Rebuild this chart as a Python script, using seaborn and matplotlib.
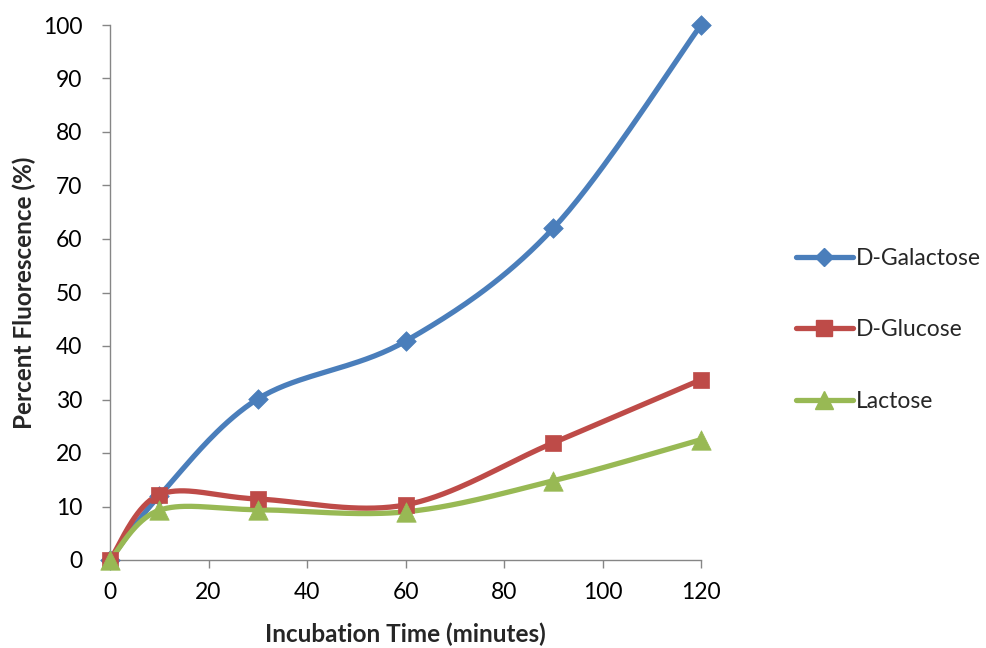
import numpy as np
import pandas as pd
import matplotlib
matplotlib.use("Agg")
import matplotlib.pyplot as plt
import seaborn as sns
from matplotlib.lines import Line2D

time_min = [0, 10, 30, 60, 90, 120]
galactose = [0, 12, 30.1, 40.9, 62.0, 100]
glucose = [0, 12.2, 11.4, 10.3, 21.9, 33.7]
lactose = [0, 9.3, 9.4, 9.0, 14.8, 22.5]
series_names = ["D-Galactose", "D-Glucose", "Lactose"]
colors = ["#4A7EBB", "#BE4B48", "#98B954"]
markers = ["D", "s", "^"]
msizes = [10, 12, 14]

sns.set_theme(style="white")
plt.rcParams['font.family'] = ['Lato', 'DejaVu Sans']

fig = plt.figure(figsize=(9.86, 6.48), dpi=100)
ax = fig.add_axes([110/986, 1-560/648, 591/986, 535/648])

sx, sy = 591/120, 535/100  # display scaling for smoothing


def smooth(x, y, n=40):
    x = np.asarray(x, float) * sx
    y = np.asarray(y, float) * sy
    P = np.column_stack([x, y])
    out = []
    for i in range(len(P) - 1):
        p0 = P[i - 1] if i > 0 else P[i]
        p1 = P[i]
        p2 = P[i + 1]
        p3 = P[i + 2] if i + 2 < len(P) else P[i + 1]
        c1 = p1 + (p2 - p0) / 6
        c2 = p2 - (p3 - p1) / 6
        t = np.linspace(0, 1, n)[:, None]
        seg = (1-t)**3*p1 + 3*(1-t)**2*t*c1 + 3*(1-t)*t**2*c2 + t**3*p2
        out.append(seg if i == 0 else seg[1:])
    out = np.vstack(out)
    return out[:, 0] / sx, out[:, 1] / sy


handles = []
for name, vals, c, m, ms in zip(series_names, [galactose, glucose, lactose], colors, markers, msizes):
    xs, ys = smooth(time_min, vals)
    dfc = pd.DataFrame({"x": xs, "y": ys})
    sns.lineplot(data=dfc, x="x", y="y", sort=False, color=c, linewidth=3.8, ax=ax,
                 solid_capstyle="round", zorder=3)
    dfp = pd.DataFrame({"x": time_min, "y": vals})
    sns.scatterplot(data=dfp, x="x", y="y", marker=m, s=ms**2, color=c, edgecolor=c,
                    linewidth=0.5, ax=ax, zorder=4, clip_on=False)
    handles.append(Line2D([0], [0], color=c, lw=3.8, marker=m, markersize=ms * 0.95,
                          markeredgecolor=c, solid_capstyle="round"))

for l in ax.lines:
    l.set_clip_on(False)
for coll in ax.collections:
    coll.set_clip_on(False)

ax.set_xlim(0, 120)
ax.set_ylim(0, 100)
ax.set_xticks(range(0, 121, 20))
ax.set_yticks(range(0, 101, 10))
for s in ["top", "right"]:
    ax.spines[s].set_visible(False)
for s in ["left", "bottom"]:
    ax.spines[s].set_color("#868686")
    ax.spines[s].set_linewidth(1.0)
ax.tick_params(axis="both", direction="out", length=6, width=1.0, color="#868686",
               labelsize=16.5, labelcolor="black", bottom=True, left=True)
ax.tick_params(axis="x", pad=10)
ax.tick_params(axis="y", pad=14)
ax.set_xlabel("Incubation Time (minutes)", fontsize=17.5, fontweight="bold", labelpad=14)
ax.set_ylabel("Percent Fluorescence (%)", fontsize=17.5, fontweight="bold", labelpad=5)

ax.legend(handles, series_names, loc="center left", bbox_to_anchor=(1.125, 0.43),
          frameon=False, fontsize=16.5, handlelength=2.5, handletextpad=0.15,
          labelspacing=2.2)

fig.savefig("out.png", dpi=100)
